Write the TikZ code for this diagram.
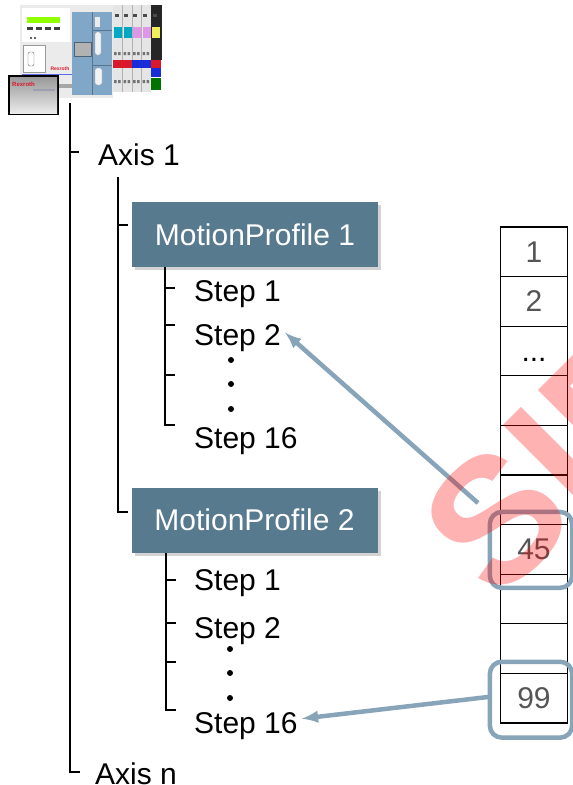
\documentclass[tikz,border=0pt]{standalone}
\usepackage{fontspec}
\setmainfont{Liberation Sans}
\usepackage{tikz}
\usetikzlibrary{arrows,%
                shadows,%
                positioning}

\definecolor{profileblue}{RGB}{88,122,143}
\definecolor{markblue}{RGB}{136,164,184}
\definecolor{numgray}{RGB}{85,85,85}
\definecolor{panelblue}{RGB}{128,166,200}
\definecolor{ioteal}{RGB}{0,168,196}
\definecolor{iopink}{RGB}{222,150,232}
\definecolor{ioyellow}{RGB}{240,238,90}
\definecolor{iored}{RGB}{218,24,44}
\definecolor{ioblue}{RGB}{24,44,218}

\begin{document}
\begin{tikzpicture}[x=1pt,y=-1pt]
		\tikzstyle{every node}=[font=\fontsize{30}{36}\selectfont,inner sep=0pt]
		\tikzstyle{TreeStyle}=[line width=1.3pt]
		\tikzstyle{ProfileStyle}=[fill=profileblue,text=white,minimum width=246pt,minimum height=65pt,
			drop shadow={shadow xshift=3pt,shadow yshift=-3pt,opacity=0.35}]
		\tikzstyle{StepStyle}=[anchor=base west]
		\tikzstyle{CellStyle}=[draw,line width=1.3pt,minimum width=67pt,minimum height=49.6pt,text=numgray]
		\tikzstyle{MarkStyle}=[draw=markblue,line width=4.5pt,rounded corners=12pt]
		\tikzstyle{PointerStyle}=[markblue,line width=4.5pt,-latex]
		\useasboundingbox (0,0) rectangle (573,785);
		\clip (0,0) rectangle (573,785);
		% controller
		\fill[black!8] (20,5) rectangle (113,98);
		\fill[white] (22,8) rectangle (70,42);
		\fill[lime!75!green] (27,17) rectangle (60,23);
		\foreach \x in {27,36,45,54} \fill[black!75] (\x,27) rectangle ++(6,2.5);
		\fill[black!80] (31,38) circle (1.2pt) (35,38) circle (1.2pt);
		\filldraw[fill=white,draw=black!40] (23,45) rectangle (45,72);
		\draw[black!60,rounded corners=2pt] (28,52) rectangle (34,66);
		\node[text=iored,font=\fontsize{5}{5}\bfseries\selectfont] (plclogo) at (60,69) {Rexroth};
		\draw[ioblue!70,line width=1pt] (22,74) -- (72,74);
		\fill[panelblue] (72,12) rectangle (112,95);
		\draw[panelblue!70!black,line width=0.5pt] (92,12) -- (92,95) (92,30) -- (112,30) (92,65) -- (112,65);
		\filldraw[fill=black!30,draw=panelblue!60!black] (74,42) rectangle (91,56);
		\fill[white!85!gray] (95,17) rectangle (100,27);
		\filldraw[fill=white!90!gray,draw=black!40,rounded corners=2pt] (95,32) rectangle (101,55);
		\filldraw[fill=white!90!gray,draw=black!40,rounded corners=2pt] (95,68) rectangle (102,85);
		% io modules
		\fill[black!10] (113,5) rectangle (151,92);
		\fill[black!85] (151,5) rectangle (162,60);
		\foreach \x in {122.5,132,141.5} \draw[black!30,line width=0.4pt] (\x,5) -- (\x,92);
		\foreach \x in {115,124,133,143,153} \fill[black!70] (\x,14) rectangle ++(4,3);
		\foreach \x/\c in {114/ioteal,123.5/ioteal,133/iopink,142.5/iopink,152/ioyellow}
			\fill[\c] (\x,27) rectangle ++(8,11);
		\foreach \x in {114,118,123.5,127.5,133,137,142.5,146.5}
			\fill[black!55] (\x,52) rectangle ++(2.5,3) (\x,80) rectangle ++(2.5,3);
		\foreach \x/\c in {113/iored,122.5/iored,132/ioblue,141.5/ioblue,151/iored}
			\fill[\c] (\x,60) rectangle ++(9.5,8);
		\fill[ioblue] (151,68) rectangle (161,77);
		\fill[green!45!black] (151,78) rectangle (161,90);
		% memory card
		\fill[black!35] (59,84) rectangle (72,88);
		\fill[black] (8,75) rectangle (59,115);
		\shade[top color=black!40,bottom color=black!8] (10,77) rectangle (57,113);
		\node[anchor=west,text=iored,font=\fontsize{6}{6}\bfseries\selectfont] (cardlogo) at (12,84) {Rexroth};
		\fill[ioblue!30!black!40] (33,89) rectangle (55,91);

		% axis tree
		\coordinate (trunk) at (70,103);
		\coordinate (ax1tick) at (79,152);
		\coordinate (axntick) at (80,772);
		\draw[TreeStyle] (trunk) |- (axntick);
		\draw[TreeStyle] (trunk |- ax1tick) -- (ax1tick);
		\node[StepStyle] (axis1) at (98,165) {Axis 1};
		\node[StepStyle] (axisn) at (95,784) {Axis n};

		\node[ProfileStyle] (mp1) at (255,234.5) {MotionProfile 1};
		\node[ProfileStyle] (mp2) at (254.5,520) {MotionProfile 2};
		\coordinate (ax1root) at (118,177);
		\coordinate (mp1tick) at (128,225);
		\coordinate (mp2tick) at (128,512);
		\draw[TreeStyle] (ax1root) |- (mp2tick);
		\draw[TreeStyle] (ax1root |- mp1tick) -- (mp1tick);

		% steps of profile 1
		\node[StepStyle] (p1s1) at (194,301) {Step 1};
		\node[StepStyle] (p1s2) at (194,345) {Step 2};
		\node[StepStyle] (p1s16) at (194,448) {Step 16};
		\coordinate (p1end) at (175,425);
		\draw[TreeStyle] ([xshift=-90pt]mp1.south) |- (p1end);
		\foreach \y in {288,325,375} \draw[TreeStyle] (p1end |- 0,\y) -- ++(-10,0);
		\foreach \y in {360,384,409} \fill (231,\y) circle (3pt);

		% steps of profile 2
		\node[StepStyle] (p2s1) at (194,590) {Step 1};
		\node[StepStyle] (p2s2) at (194,638) {Step 2};
		\node[StepStyle] (p2s16) at (194,733) {Step 16};
		\coordinate (p2end) at (176,710);
		\draw[TreeStyle] ([xshift=-88.5pt]mp2.south) |- (p2end);
		\foreach \y in {580,623,662} \draw[TreeStyle] (p2end |- 0,\y) -- ++(-10,0);
		\foreach \y in {649,673,698} \fill (230,\y) circle (3pt);

		% table of steps
		\foreach \i/\txt in {1/1,2/2,3/{},4/{},5/{},6/{},7/45,8/{},9/{},10/99}
			\node[CellStyle] (cell\i) at (534,{227+49.6*(\i-0.5)}) {\txt};
		\node (celldots) at (534,360) {...};
		\draw[MarkStyle] ([shift={(-10pt,12pt)}]cell7.north west) rectangle ([shift={(4pt,-13pt)}]cell7.south east);
		\draw[MarkStyle] ([shift={(-10pt,11pt)}]cell10.north west) rectangle ([shift={(4pt,-14pt)}]cell10.south east);

		\coordinate (from45) at (478,503);
		\coordinate (from99) at (488,697);
		\draw[PointerStyle] (from45) -- ([shift={(4pt,5pt)}]p1s2.east);
		\draw[PointerStyle] (from99) -- ([shift={(4pt,7pt)}]p2s16.east);

		% stamp across the table
		\node[rotate=45,anchor=base west,text=red,opacity=0.3,
			font=\fontsize{178}{178}\bfseries\selectfont] (stamp) at (497,605) {SIE};
	\end{tikzpicture}
\end{document}
